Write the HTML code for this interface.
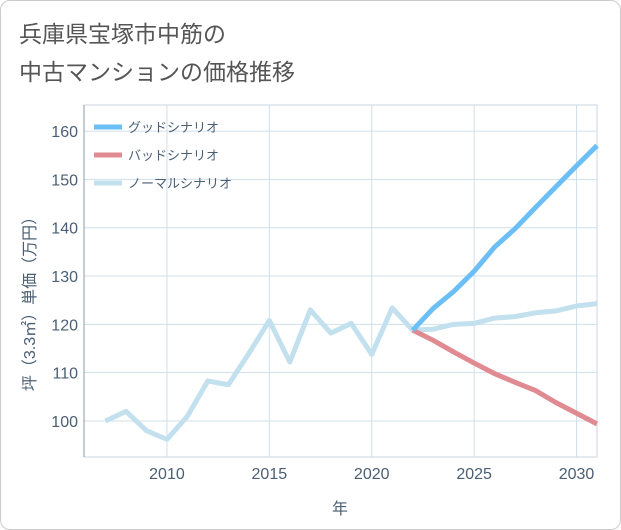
<!DOCTYPE html>
<html><head><meta charset="utf-8"><style>
body{margin:0;background:#fff;}
#wrap{position:relative;width:619px;height:528px;border:1px solid #ccc;border-radius:10px;overflow:hidden;background:#fff;}
.title{position:absolute;left:18px;font:23px "Liberation Sans","Noto Sans CJK JP",sans-serif;color:#555;}
text{font-family:"Liberation Sans","Noto Sans CJK JP",sans-serif;}
</style></head><body>
<div id="wrap">
<div class="title" style="top:14px">兵庫県宝塚市中筋の</div>
<div class="title" style="top:52px">中古マンションの価格推移</div>
<svg id="chart" width="621" height="530" style="position:absolute;left:-1px;top:-1px"></svg>
</div>
<script>
const years=[2007,2008,2009,2010,2011,2012,2013,2014,2015,2016,2017,2018,2019,2020,2021,2022,2023,2024,2025,2026,2027,2028,2029,2030,2031];
const normal=[100,102,98,96.2,101,108.3,107.5,114,120.8,112.2,123,118.2,120.2,113.8,123.4,118.8,119,120,120.2,121.3,121.6,122.4,122.8,123.8,124.3];
const goodYears=[2022,2023,2024,2025,2026,2027,2028,2029,2030,2031];
const good=[118.8,123.3,126.8,131,136,139.8,144.2,148.5,152.8,157];
const bad=[118.8,116.7,114.3,112,109.8,108,106.3,103.8,101.6,99.4];
const xTicks=[2010,2015,2020,2025,2030];
const yTicks=[100,110,120,130,140,150,160];
const L=84,R=597,T=105,B=457;
const X=v=>L+(v-2005.95)/(2031-2005.95)*(R-L);
const Y=v=>B-(v-92.55)/(165.4-92.55)*(B-T);
const svg=document.getElementById('chart');const NS='http://www.w3.org/2000/svg';
function mk(t,a,p){const e=document.createElementNS(NS,t);for(const k in a)e.setAttribute(k,a[k]);(p||svg).appendChild(e);return e;}
mk('rect',{x:L,y:T,width:R-L,height:B-T,fill:'none',stroke:'#c8d6e2'});
const tc='#4a5f73';
xTicks.forEach(v=>{const l=mk('line',{x1:X(v),x2:X(v),y1:T,y2:B,stroke:'#d0e0ea'});

const t=mk('text',{x:X(v),y:B+22,'text-anchor':'middle','font-size':16,fill:tc});t.textContent=v;
});
yTicks.forEach(v=>{const l=mk('line',{x1:L,x2:R,y1:Y(v),y2:Y(v),stroke:'#d0e0ea'});

const t=mk('text',{x:L-6,y:Y(v)+6,'text-anchor':'end','font-size':16,fill:tc});t.textContent=v;
});
mk('line',{x1:L,x2:L,y1:T,y2:B,stroke:'#8a9aa8'});
const xt=mk('text',{x:340,y:514,'text-anchor':'middle','font-size':16,fill:tc});xt.textContent='年';

const yt=mk('text',{x:0,y:0,'text-anchor':'middle','font-size':16,fill:tc,transform:'translate(35,300) rotate(-90)'});yt.textContent='坪（3.3㎡）単価（万円）';

function line(xs,vs,c,n){const p=mk('polyline',{points:xs.map((x,i)=>X(x)+','+Y(vs[i])).join(' '),fill:'none',stroke:c,'stroke-width':5,'stroke-linejoin':'round'});
}
line(years,normal,'#c2e0ee','normal-scenario-line');
line(goodYears,bad,'#e08b92','bad-scenario-line');
line(goodYears,good,'#6bbff5','good-scenario-line');
[['グッドシナリオ','#6bbff5'],['バッドシナリオ','#e08b92'],['ノーマルシナリオ','#c2e0ee']].forEach((d,i)=>{
const y=127+i*28;const l=mk('line',{x1:94,x2:122,y1:y,y2:y,stroke:d[1],'stroke-width':5});

const t=mk('text',{x:128,y:y+5,'font-size':13,fill:tc});t.textContent=d[0];
});
</script>
</body></html>
